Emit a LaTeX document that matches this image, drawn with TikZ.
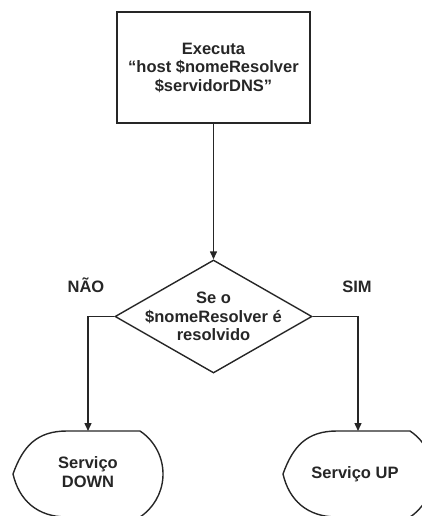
\documentclass[tikz,border=0pt]{standalone}
\usepackage{fontspec}
\setmainfont{Liberation Sans}
\usetikzlibrary{shapes.geometric,arrows.meta}
\begin{document}
\begin{tikzpicture}[x=1pt,y=1pt,
  line/.style={draw=black!85, line width=1.4pt},
  flow/.style={line, -{Triangle[length=8pt,width=7pt]}},
  txt/.style={font=\fontsize{16.5}{18.5}\selectfont\bfseries, text=black!85, align=center},
  procbox/.style={line, rectangle, minimum width=193pt, minimum height=111pt, inner sep=0pt},
  decision/.style={line, diamond, minimum width=197pt, minimum height=113pt, inner sep=0pt}
]
\useasboundingbox (0,0) rectangle (422,-516);
\clip (0,0) rectangle (422,-516);

% process step
\node[procbox, txt] (exec) at (213.5,-67.5)
  {Executa\\``host \$nomeResolver\\\$servidorDNS''};

% decision
\node[decision] (dec) at (213.5,-316.5) {};
\node[txt] (dectxt) at (dec.center) {Se o\\\$nomeResolver é\\resolvido};

% branch labels
\node[txt] (nao) at (86,-285) {NÃO};
\node[txt] (sim) at (357,-287) {SIM};

% display-shaped terminals (drawn as paths)
\newcommand{\displayshape}[1]{%
  \draw[line] (#1+54,-431) -- (#1+127,-431)
    arc[start angle=56.3, end angle=-56.3, radius=51.7]
    -- (#1+54,-517)
    .. controls (#1+24,-517) and (#1+6,-500) .. (#1,-474)
    .. controls (#1+10,-446) and (#1+24,-431) .. (#1+54,-431) -- cycle;}
\displayshape{13}
\displayshape{283}

\coordinate (downtop) at (88,-431);
\coordinate (uptop) at (358,-431);
\node[txt] (down) at (88,-472) {Serviço\\DOWN};
\node[txt] (up) at (355,-474) {Serviço UP};

% connectors
\draw[flow] (exec.south) -- (dec.north);
\draw[flow] (dec.west) -| (downtop);
\draw[flow] (dec.east) -| (uptop);
\end{tikzpicture}
\end{document}
